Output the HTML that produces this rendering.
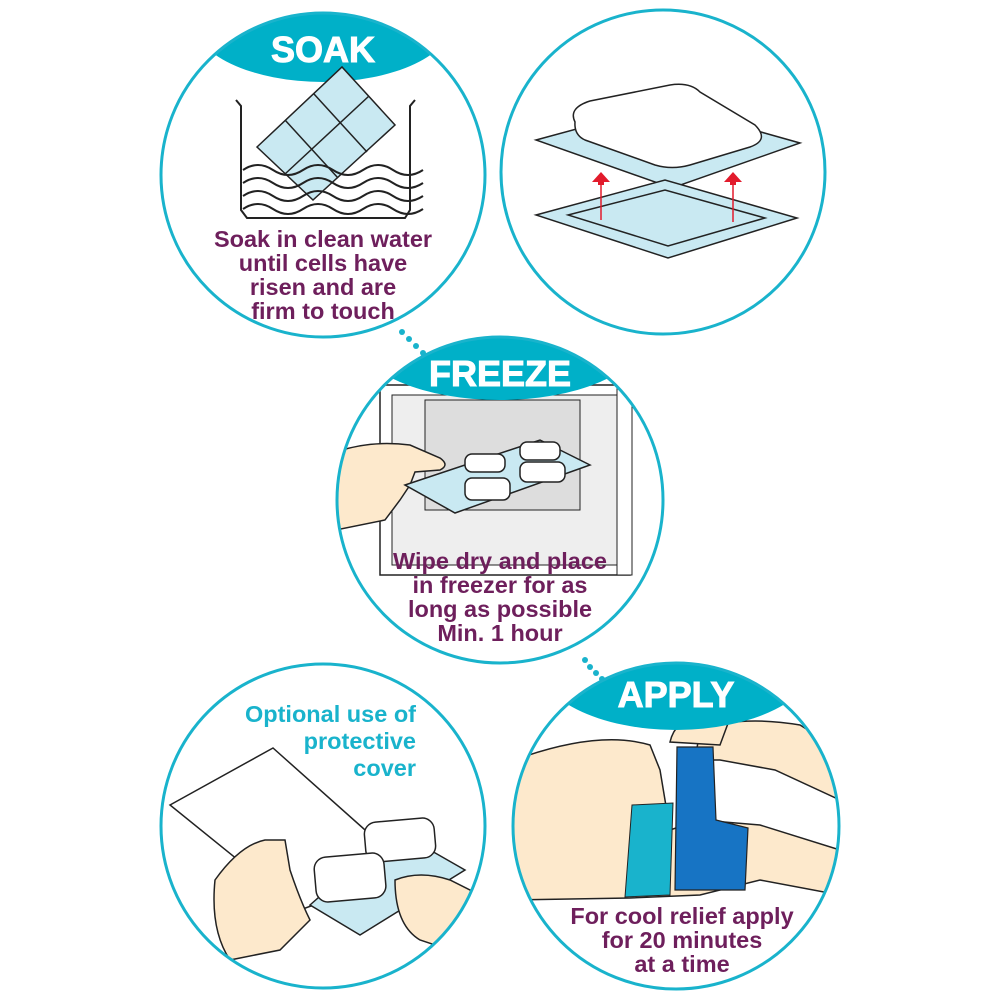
<!DOCTYPE html>
<html><head><style>
body{margin:0;background:#fff}
svg{display:block}
.p{font-family:"Liberation Sans",sans-serif;font-weight:bold;fill:#6e1f5c;font-size:23.5px;text-anchor:middle}
.h{font-family:"Liberation Sans",sans-serif;font-weight:bold;fill:#fff;font-size:36px;text-anchor:middle;stroke:#fff;stroke-width:1}
.c{font-family:"Liberation Sans",sans-serif;font-weight:bold;fill:#19b3cc;font-size:23.5px;text-anchor:end}
</style></head><body>
<svg width="1000" height="1000" viewBox="0 0 1000 1000" xmlns="http://www.w3.org/2000/svg">
<defs>
<clipPath id="c1"><circle cx="323" cy="175" r="162"/></clipPath>
<clipPath id="c3"><circle cx="500" cy="500" r="163"/></clipPath>
<clipPath id="c4"><circle cx="323" cy="826" r="162"/></clipPath>
<clipPath id="c5"><circle cx="676" cy="826" r="163"/></clipPath>
</defs>
<g fill="#19b3cc"><circle cx="402" cy="332" r="3"/><circle cx="409" cy="339" r="3"/><circle cx="416" cy="346" r="3"/><circle cx="423" cy="353" r="3"/><circle cx="430" cy="359" r="3"/>
<circle cx="585" cy="660" r="3"/><circle cx="590" cy="667" r="3"/><circle cx="596" cy="673" r="3"/><circle cx="602" cy="679" r="3"/></g>

<!-- SOAK -->
<g clip-path="url(#c1)">
<ellipse cx="323" cy="20" rx="130" ry="62" fill="#00b0c8"/>
<path d="M236 100 L241 106 L241 210 L247 218 L405 218 L410 210 L410 106 L415 100" fill="none" stroke="#222" stroke-width="2"/>
<polygon points="257,147 342,67 395,125 313,200" fill="#c9e9f2" stroke="#222" stroke-width="1.5"/>
<g stroke="#222" stroke-width="1.5" fill="none">
<line x1="285" y1="120" x2="338" y2="178"/><line x1="314" y1="94" x2="367" y2="152"/><line x1="285" y1="174" x2="369" y2="96"/>
</g>
<g fill="none" stroke="#222" stroke-width="2">
<path d="M243 170 q15 -10 30 0 t30 0 t30 0 t30 0 t30 0 t30 0"/>
<path d="M243 183 q15 -10 30 0 t30 0 t30 0 t30 0 t30 0 t30 0"/>
<path d="M243 196 q15 -10 30 0 t30 0 t30 0 t30 0 t30 0 t30 0"/>
<path d="M243 209 q15 -10 30 0 t30 0 t30 0 t30 0 t30 0 t30 0"/>
</g>
</g>
<circle cx="323" cy="175" r="162" fill="none" stroke="#19b3cc" stroke-width="3"/>
<text class="h" x="323" y="62">SOAK</text>
<text class="p" x="323" y="247">Soak in clean water</text>
<text class="p" x="323" y="271">until cells have</text>
<text class="p" x="323" y="295">risen and are</text>
<text class="p" x="323" y="319">firm to touch</text>

<!-- top right -->
<circle cx="663" cy="172" r="162" fill="none" stroke="#19b3cc" stroke-width="3"/>
<g stroke="#222" stroke-width="1.5">
<polygon points="536,140 665,105 800,143 672,188" fill="#c9e9f2"/>
<path d="M575 122 Q568 108 590 101 L670 85 Q690 82 700 92 L755 125 Q770 140 750 147 L690 165 Q672 170 655 165 L585 140 Q574 135 575 122Z" fill="#fff"/>
<polygon points="536,215 665,180 797,218 668,258" fill="#c9e9f2"/>
<polygon points="568,215 665,190 765,218 668,246" fill="#c9e9f2"/>
</g>
<g fill="#e21b2c"><path d="M601 172 l-9 10 h6 v3 h6 v-3 h6z"/><path d="M733 172 l-9 10 h6 v3 h6 v-3 h6z"/></g>
<line x1="601" y1="185" x2="601" y2="220" stroke="#e21b2c" stroke-width="1.5"/>
<line x1="733" y1="185" x2="733" y2="222" stroke="#e21b2c" stroke-width="1.5"/>

<!-- FREEZE -->
<g clip-path="url(#c3)">
<rect x="380" y="385" width="250" height="190" fill="#fff" stroke="#222" stroke-width="1.5"/>
<rect x="392" y="395" width="225" height="170" fill="#eee" stroke="#222" stroke-width="1"/>
<rect x="425" y="400" width="155" height="110" fill="#ddd" stroke="#222" stroke-width="1"/>
<rect x="617" y="385" width="15" height="190" fill="#fff" stroke="#222" stroke-width="1"/>
<ellipse cx="500" cy="340" rx="140" ry="60" fill="#00b0c8"/>
<path d="M336 452 Q370 440 410 445 L440 458 Q450 465 440 470 L415 472 L410 485 L400 500 L385 520 L336 530Z" fill="#fde9cc" stroke="#222" stroke-width="1.5"/>
<polygon points="405,485 540,440 590,465 455,513" fill="#c9e9f2" stroke="#222" stroke-width="1.5"/>
<g fill="#fff" stroke="#222" stroke-width="1.5">
<rect x="465" y="454" width="40" height="18" rx="7"/>
<rect x="520" y="442" width="40" height="18" rx="7"/>
<rect x="465" y="478" width="45" height="22" rx="7"/>
<rect x="520" y="462" width="45" height="20" rx="7"/>
</g>
</g>
<circle cx="500" cy="500" r="163" fill="none" stroke="#19b3cc" stroke-width="3"/>
<text class="h" x="500" y="386">FREEZE</text>
<text class="p" x="500" y="569">Wipe dry and place</text>
<text class="p" x="500" y="593">in freezer for as</text>
<text class="p" x="500" y="617">long as possible</text>
<text class="p" x="500" y="641">Min. 1 hour</text>

<!-- bottom left -->
<g clip-path="url(#c4)">
<polygon points="170,805 273,748 410,870 300,910" fill="#fff" stroke="#222" stroke-width="1.5"/>
<polygon points="310,905 395,830 465,870 360,935" fill="#c9e9f2" stroke="#222" stroke-width="1.5"/>
<rect x="365" y="820" width="70" height="40" rx="12" fill="#fff" stroke="#222" stroke-width="1.5" transform="rotate(-5 400 840)"/>
<rect x="315" y="855" width="70" height="45" rx="12" fill="#fff" stroke="#222" stroke-width="1.5" transform="rotate(-5 350 877)"/>
<path d="M215 880 Q240 845 265 840 L285 840 L290 870 Q300 900 310 920 L280 950 L230 960 Q210 930 215 880Z" fill="#fde9cc" stroke="#222" stroke-width="1.5"/>
<path d="M395 880 Q420 870 450 880 L480 895 L480 960 L420 940 Q395 925 395 880Z" fill="#fde9cc" stroke="#222" stroke-width="1.5"/>
</g>
<circle cx="323" cy="826" r="162" fill="none" stroke="#19b3cc" stroke-width="3"/>
<text class="c" x="416" y="722">Optional use of</text>
<text class="c" x="416" y="749">protective</text>
<text class="c" x="416" y="776">cover</text>

<!-- APPLY -->
<g clip-path="url(#c5)">
<path d="M510 760 L520 758 Q600 730 650 745 L660 770 L670 830 L700 820 L760 825 L840 850 L840 895 L760 880 L700 895 L630 898 L510 900Z" fill="#fde9cc" stroke="#222" stroke-width="1.5"/>
<path d="M700 730 Q740 715 800 725 L840 750 L840 800 L775 770 L720 760 L695 760 Z" fill="#fde9cc" stroke="#222" stroke-width="1.5"/>
<polygon points="632,805 673,803 670,895 625,897" fill="#19b3cc" stroke="#222" stroke-width="1"/>
<polygon points="677,747 713,747 716,820 748,828 745,890 675,890" fill="#1774c4" stroke="#222" stroke-width="1.2"/>
<path d="M670 742 Q675 720 700 715 L730 718 L720 745 Z" fill="#fde9cc" stroke="#222" stroke-width="1.5"/>
<ellipse cx="676" cy="660" rx="140" ry="70" fill="#00b0c8"/>
</g>
<circle cx="676" cy="826" r="163" fill="none" stroke="#19b3cc" stroke-width="3"/>
<text class="h" x="676" y="707">APPLY</text>
<text class="p" x="682" y="924">For cool relief apply</text>
<text class="p" x="682" y="948">for 20 minutes</text>
<text class="p" x="682" y="972">at a time</text>
</svg>
</body></html>
